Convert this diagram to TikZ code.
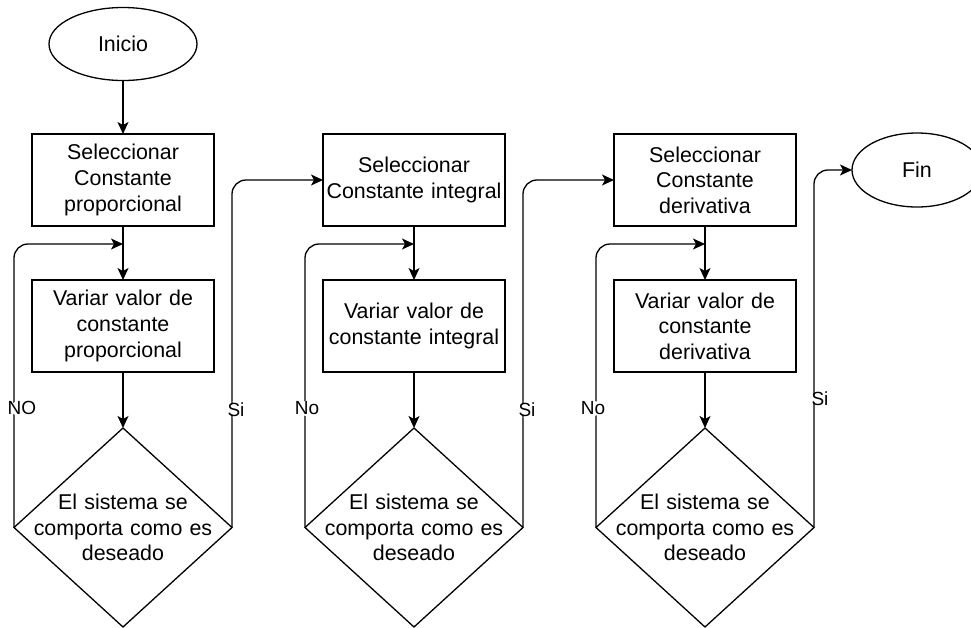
\documentclass[tikz,border=0pt]{standalone}
\usepackage{fontspec}
\setmainfont{Liberation Sans}
\usetikzlibrary{arrows.meta,positioning,shapes.geometric}

\begin{document}
\begin{tikzpicture}[
    node distance=54pt,
    every node/.style={font=\fontsize{21.4}{25.6}\selectfont, outer sep=0pt},
    terminal/.style={draw, ellipse, line width=1.3pt,
      minimum width=148pt, minimum height=73pt, inner sep=0pt},
    box/.style={draw, line width=1.3pt, align=center, inner sep=0pt,
      text width=178pt, minimum width=182pt, minimum height=92pt},
    decision/.style={draw, diamond, line width=1.3pt, align=center,
      text width=180pt, inner xsep=-40pt, inner ysep=-20pt,
      minimum width=218pt, minimum height=199pt},
    lbl/.style={fill=white, inner sep=1pt,
      font=\fontsize{19}{22}\selectfont},
    arrow/.style={-{Stealth[length=12pt, width=11pt, inset=3pt]}, line width=1.3pt}
  ]
  \useasboundingbox (0,0) rectangle (971pt,-627pt);

  \node[terminal] (inicio) at (123pt,-44pt) {Inicio};

  % columna proporcional
  \node[box, below=53.5pt of inicio] (selp)
    {Seleccionar\\Constante\\proporcional};
  \node[box, below=of selp] (varp)
    {Variar valor de\\constante\\proporcional};
  \node[decision, below=56pt of varp] (decp)
    {El sistema se\\comporta como es\\deseado};
  \coordinate[below=18pt of selp] (jp);

  % columna integral
  \node[box, right=109pt of selp] (seli)
    {Seleccionar\\Constante integral};
  \node[box, below=of seli] (vari)
    {Variar valor de\\constante integral};
  \node[decision, below=56pt of vari] (deci)
    {El sistema se\\comporta como es\\deseado};
  \coordinate[below=18pt of seli] (ji);

  % columna derivativa
  \node[box, right=109pt of seli] (seld)
    {Seleccionar\\Constante\\derivativa};
  \node[box, below=of seld] (vard)
    {Variar valor de\\constante\\derivativa};
  \node[decision, below=56pt of vard] (decd)
    {El sistema se\\comporta como es\\deseado};
  \coordinate[below=18pt of seld] (jd);

  \node[terminal, minimum width=130pt, minimum height=74pt] (fin)
    at (917pt,-170pt) {Fin};

  \draw[arrow] (inicio) -- (selp);
  \draw[arrow] (selp) -- (varp);
  \draw[arrow] (varp) -- (decp);
  \draw[arrow, rounded corners=14pt] (decp.west) |-
    node[lbl, pos=0.21, xshift=8pt]{NO} (jp);
  \draw[arrow, rounded corners=14pt] (decp.east) |-
    node[lbl, pos=0.17, xshift=4pt]{Si} (seli.west);

  \draw[arrow] (seli) -- (vari);
  \draw[arrow] (vari) -- (deci);
  \draw[arrow, rounded corners=14pt] (deci.west) |-
    node[lbl, pos=0.21, xshift=2pt]{No} (ji);
  \draw[arrow, rounded corners=14pt] (deci.east) |-
    node[lbl, pos=0.17, xshift=4pt]{Si} (seld.west);

  \draw[arrow] (seld) -- (vard);
  \draw[arrow] (vard) -- (decd);
  \draw[arrow, rounded corners=14pt] (decd.west) |-
    node[lbl, pos=0.21, xshift=-3pt]{No} (jd);
  \draw[arrow, rounded corners=14pt] (decd.east) |-
    node[lbl, pos=0.18, xshift=6pt]{Si} (fin.west);
\end{tikzpicture}
\end{document}
